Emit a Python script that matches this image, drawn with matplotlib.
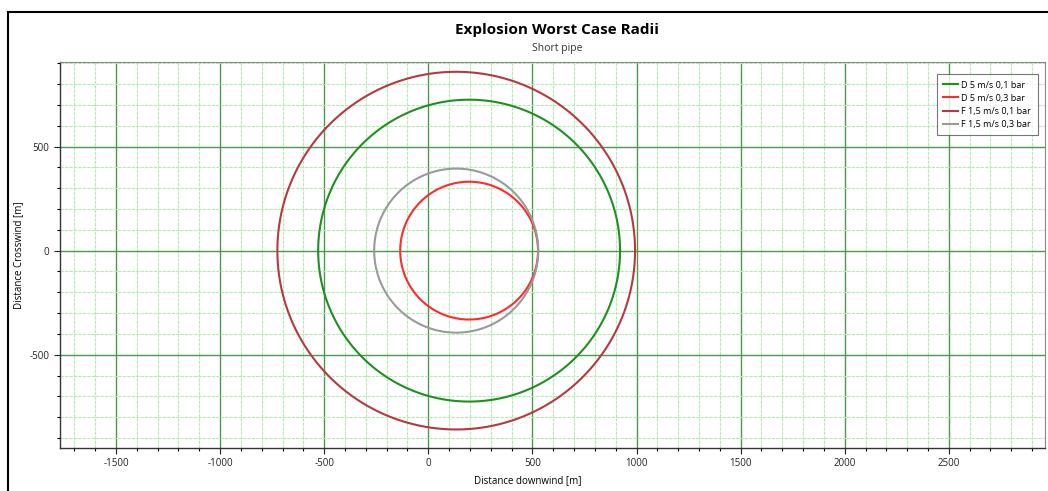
import numpy as np
import matplotlib
matplotlib.use("Agg")
import matplotlib.pyplot as plt
from matplotlib.patches import Rectangle
from matplotlib.ticker import MultipleLocator

plt.rcParams['font.family'] = ['Open Sans', 'DejaVu Sans']
plt.rcParams['axes.unicode_minus'] = False

# data (metres)
labels = ['D 5 m/s 0,1 bar', 'D 5 m/s 0,3 bar', 'F 1,5 m/s 0,1 bar', 'F 1,5 m/s 0,3 bar']
centers_x = [196, 196, 134, 134]
radii = [725, 331, 859, 394]
colors = ['#1f8f1f', '#ff2a2a', '#b5393f', '#9a9a9a']

W, H = 1048, 491
fig = plt.figure(figsize=(W / 100, H / 100), dpi=100)
ax = fig.add_axes([60 / W, (H - 448) / H, 985 / W, 386 / H])

theta = np.linspace(0, 2 * np.pi, 721)
for lab, cx, r, c in zip(labels, centers_x, radii, colors):
    ax.plot(cx + r * np.cos(theta), r * np.sin(theta), color=c, lw=1.5, label=lab)

ax.set_xlim(-1769, 2962)
ax.set_ylim(-948, 906)

ax.xaxis.set_major_locator(MultipleLocator(500))
ax.yaxis.set_major_locator(MultipleLocator(500))
ax.xaxis.set_minor_locator(MultipleLocator(100))
ax.yaxis.set_minor_locator(MultipleLocator(100))
ax.grid(which='major', color='#4a9a4a', lw=1.0)
ax.grid(which='minor', color='#b3ebb3', lw=0.8, ls=(0, (3, 1)))
ax.set_axisbelow(True)

ax.tick_params(which='major', direction='out', length=4, width=0.8, labelsize=7, colors='#222222')
ax.tick_params(which='minor', direction='out', length=2.5, width=0.8)
for side in ['left', 'bottom']:
    ax.spines[side].set_color('#333333')
    ax.spines[side].set_linewidth(1.0)
for side in ['top', 'right']:
    ax.spines[side].set_color('#888888')
    ax.spines[side].set_linewidth(0.8)

ax.set_ylabel('Distance Crosswind [m]', fontsize=7, labelpad=4)
fig.text(528 / W, 1 - 481 / H, 'Distance downwind [m]', fontsize=7, ha='center', va='center')

fig.text(557 / W, 1 - 30 / H, 'Explosion Worst Case Radii', fontsize=11, fontweight='bold',
         ha='center', va='center')
fig.text(557 / W, 1 - 48 / H, 'Short pipe', fontsize=7.5, ha='center', va='center', color='#333333')

leg = ax.legend(loc='upper right', fontsize=6.5, frameon=True, fancybox=False,
                handlelength=1.6, handletextpad=0.4, borderpad=0.7, labelspacing=0.45,
                bbox_to_anchor=(0.997, 0.98))
leg.get_frame().set_edgecolor('#555555')
leg.get_frame().set_linewidth(0.8)

# outer border of the original screenshot
fig.patches.append(Rectangle((8 / W, -0.05), 1.2, 1 - 12 / H + 0.05, transform=fig.transFigure,
                             fill=False, edgecolor='black', lw=1.5))

fig.savefig('out.png', dpi=100)
